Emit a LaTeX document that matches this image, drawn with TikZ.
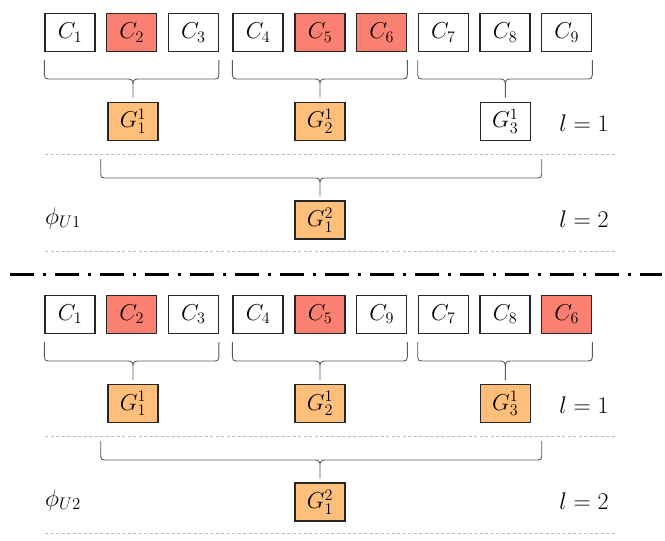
\RequirePackage{fix-cm}
\documentclass[tikz,border=0pt]{standalone}
\usetikzlibrary{calc}
\definecolor{redfill}{RGB}{250,128,114}
\definecolor{orfill}{RGB}{255,190,122}
\definecolor{bordc}{RGB}{38,38,38}
\definecolor{bracec}{RGB}{90,90,90}
\definecolor{sepc}{RGB}{185,185,185}
\newcommand\mybrace[4]{%
  \draw[brc] let \p1=(#1), \p2=(#2), \p3=(#3.north) in
    (\x1,#4) -- (\x1,#4+15) .. controls (\x1,#4+18) and (\x1+1pt,#4+19) .. (\x1+4pt,#4+19)
    -- (\x3-5pt,#4+19) .. controls (\x3-1.5pt,#4+19) and (\x3,#4+20.5) .. (\x3,#4+24)
    -- (\x3,\y3+4pt)
    (\x3,#4+24) .. controls (\x3,#4+20.5) and (\x3+1.5pt,#4+19) .. (\x3+5pt,#4+19)
    -- (\x2-4pt,#4+19) .. controls (\x2-1pt,#4+19) and (\x2,#4+18) .. (\x2,#4+15) -- (\x2,#4);}
\begin{document}
\begin{tikzpicture}[x=1pt,y=-1pt,
  box/.style={draw=bordc,line width=1.2pt,fill=white,minimum width=50pt,minimum height=38pt,
    inner sep=0pt,font=\fontsize{23}{27}\selectfont},
  rbox/.style={box,fill=redfill},
  obox/.style={box,fill=orfill},
  brc/.style={draw=bracec,line width=0.9pt},
  sepline/.style={draw=sepc,dash pattern=on 3pt off 2.5pt,line width=0.8pt},
  dd/.style={draw=black,line width=3pt,dash pattern=on 24pt off 9pt on 3pt off 9pt},
  lab/.style={inner sep=0pt,font=\fontsize{24}{28}\selectfont}]
\useasboundingbox (0,0) rectangle (665,541);
% ---------- upper half ----------
\node[box]  (a1) at (70,32.5)    {$C_1$};
\node[rbox] (a2) at (131.7,32.5) {$C_2$};
\node[box]  (a3) at (193.3,32.5) {$C_3$};
\node[box]  (a4) at (258,32.5)   {$C_4$};
\node[rbox] (a5) at (320,32.5)   {$C_5$};
\node[rbox] (a6) at (381.7,32.5) {$C_6$};
\node[box]  (a7) at (443.3,32.5) {$C_7$};
\node[box]  (a8) at (505,32.5)   {$C_8$};
\node[box]  (a9) at (566.7,32.5) {$C_9$};
\node[obox] (ga1) at (133,121.3)   {$G_1^1$};
\node[obox] (ga2) at (320,121.3)   {$G_2^1$};
\node[box]  (ga3) at (505.3,121.3) {$G_3^1$};
\node[obox] (ha) at (320,220) {$G_1^2$};
\node[lab] (la1) at (584,123) {$l=1$};
\node[lab] (la2) at (584,219) {$l=2$};
\node[lab] (pa) at (63,218) {$\phi_{U1}$};
\mybrace{a1.west}{a3.east}{ga1}{60}
\mybrace{a4.west}{a6.east}{ga2}{60}
\mybrace{a7.west}{a9.east}{ga3}{60}
\coordinate (bla) at (100.7,0);
\coordinate (bra) at (541.7,0);
\mybrace{bla}{bra}{ha}{159}
\coordinate (sa1l) at (45,154.7); \coordinate (sa1r) at (616,154.7);
\coordinate (sa2l) at (45,251);   \coordinate (sa2r) at (616,251);
\draw[sepline] (sa1l) -- (sa1r);
\draw[sepline] (sa2l) -- (sa2r);
% ---------- divider ----------
\coordinate (dl) at (10,274.3); \coordinate (dr) at (662,274.3);
\draw[dd] (dl) -- (dr);
% ---------- lower half ----------
\node[box]  (b1) at (70,314.2)    {$C_1$};
\node[rbox] (b2) at (131.7,314.2) {$C_2$};
\node[box]  (b3) at (193.3,314.2) {$C_3$};
\node[box]  (b4) at (258,314.2)   {$C_4$};
\node[rbox] (b5) at (320,314.2)   {$C_5$};
\node[box]  (b6) at (381.7,314.2) {$C_9$};
\node[box]  (b7) at (443.3,314.2) {$C_7$};
\node[box]  (b8) at (505,314.2)   {$C_8$};
\node[rbox] (b9) at (566.7,314.2) {$C_6$};
\node[obox] (gb1) at (133,403.5)   {$G_1^1$};
\node[obox] (gb2) at (320,403.5)   {$G_2^1$};
\node[obox] (gb3) at (505.3,403.5) {$G_3^1$};
\node[obox] (hb) at (320,502) {$G_1^2$};
\node[lab] (lb1) at (584,405) {$l=1$};
\node[lab] (lb2) at (584,501) {$l=2$};
\node[lab] (pb) at (63,500) {$\phi_{U2}$};
\mybrace{b1.west}{b3.east}{gb1}{342}
\mybrace{b4.west}{b6.east}{gb2}{342}
\mybrace{b7.west}{b9.east}{gb3}{342}
\coordinate (blb) at (100.7,0);
\coordinate (brb) at (541.7,0);
\mybrace{blb}{brb}{hb}{441}
\coordinate (sb1l) at (45,436.7); \coordinate (sb1r) at (616,436.7);
\coordinate (sb2l) at (45,533);   \coordinate (sb2r) at (616,533);
\draw[sepline] (sb1l) -- (sb1r);
\draw[sepline] (sb2l) -- (sb2r);
\end{tikzpicture}
\end{document}
